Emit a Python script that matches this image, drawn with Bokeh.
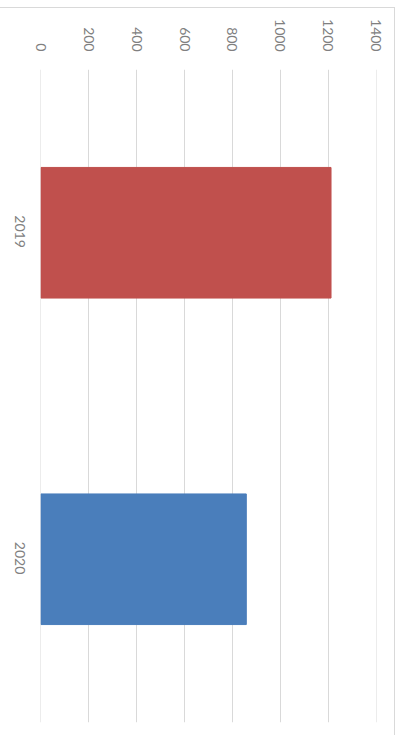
import math
from bokeh.plotting import figure
from bokeh.models import Range1d, FixedTicker, LinearAxis, ColumnDataSource
from bokeh.embed import file_html
from bokeh.resources import INLINE

years = ["2019", "2020"]
values = [1212, 858]
colors = ["#C0504D", "#4A7EBB"]
value_ticks = [0, 200, 400, 600, 800, 1000, 1200, 1400]

n = len(years)
# category slot centres, first year at the top
slot = [n - 1 - i + 0.5 for i in range(n)]

src = ColumnDataSource(dict(year=years, pos=slot, value=values, color=colors))

p = figure(
    width=395, height=728,
    y_range=Range1d(0, n),
    x_range=Range1d(-2, 1402),
    x_axis_location=None, y_axis_location=None,
    output_backend="svg", toolbar_location=None,
    min_border_left=40, min_border_right=19, min_border_top=61, min_border_bottom=14,
    styles={"margin-top": "7px", "border-top": "1px solid #D9D9D9", "border-right": "1px solid #D9D9D9"},
)
p.outline_line_color = None

p.hbar(y="pos", right="value", left=0, height=0.4, color="color", source=src)

top_axis = LinearAxis(ticker=FixedTicker(ticks=value_ticks))

# rotated labels are end-anchored by Bokeh; move the anchor by half a label length so each is centred on its bar
shift = 0.046
label_ticks = [round(s - shift, 3) for s in slot]
left_axis = LinearAxis(
    ticker=FixedTicker(ticks=label_ticks),
    major_label_overrides={t: y for t, y in zip(label_ticks, years)},
)
for ax in (top_axis, left_axis):
    ax.axis_line_color = None
    ax.major_tick_line_color = None
    ax.minor_tick_line_color = None
    ax.major_label_text_color = "#808080"
    ax.major_label_text_font = "Lato"
    ax.major_label_text_font_size = "14px"
    ax.major_label_orientation = -math.pi / 2
top_axis.major_label_standoff = 12
left_axis.major_label_standoff = 15
p.add_layout(top_axis, "above")
p.add_layout(left_axis, "left")

p.xgrid.ticker = FixedTicker(ticks=value_ticks)
p.xgrid.grid_line_color = "#D9D9D9"
p.ygrid.grid_line_color = None

open("out.html", "w").write(file_html(p, INLINE))
